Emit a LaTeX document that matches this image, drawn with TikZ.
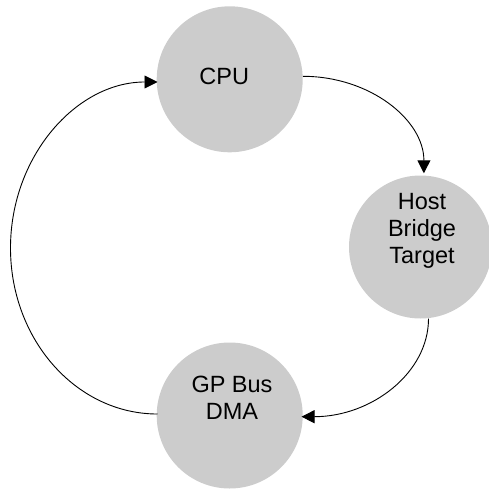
\documentclass[tikz,border=0pt]{standalone}
\usepackage{fontspec}
\setmainfont{Liberation Sans}
\usetikzlibrary{arrows.meta}
\definecolor{nodegrey}{HTML}{CCCCCC}
\begin{document}
\begin{tikzpicture}[x=1pt,y=-1pt,
  unit/.style={circle, fill=nodegrey, draw=none, minimum size=146pt, inner sep=0pt},
  lbl/.style={font=\fontsize{23.5}{27}\selectfont, align=center, inner sep=0pt},
  flow/.style={line width=0.9pt, -{Triangle[length=13pt,width=13pt]}}]
  \useasboundingbox (0,0) rectangle (489,489);

  % processing units
  \node[unit] (cpu) at (229.7,79.3) {};
  \node[unit, minimum size=143pt] (hbt) at (420.5,247) {};
  \node[unit] (gp) at (229.7,415.5) {};

  % their captions
  \node[lbl] (cpu-t) at (224.3,76) {CPU};
  \node[lbl] (hbt-t) at (422,231) {Host\\Bridge\\Target};
  \node[lbl] (gp-t) at (232,398) {GP Bus\\DMA};

  % cycle of transfers
  \draw[flow] (cpu.east) ++(0,-3) arc[start angle=90, end angle=0, x radius=121, y radius=-97];
  \draw[flow] (hbt.south) ++(8,0) arc[start angle=0, end angle=-90, x radius=127, y radius=-98];
  \draw[flow] (gp.west) ++(1,-1.5) arc[start angle=270, end angle=90, x radius=147, y radius=-166];
\end{tikzpicture}
\end{document}
